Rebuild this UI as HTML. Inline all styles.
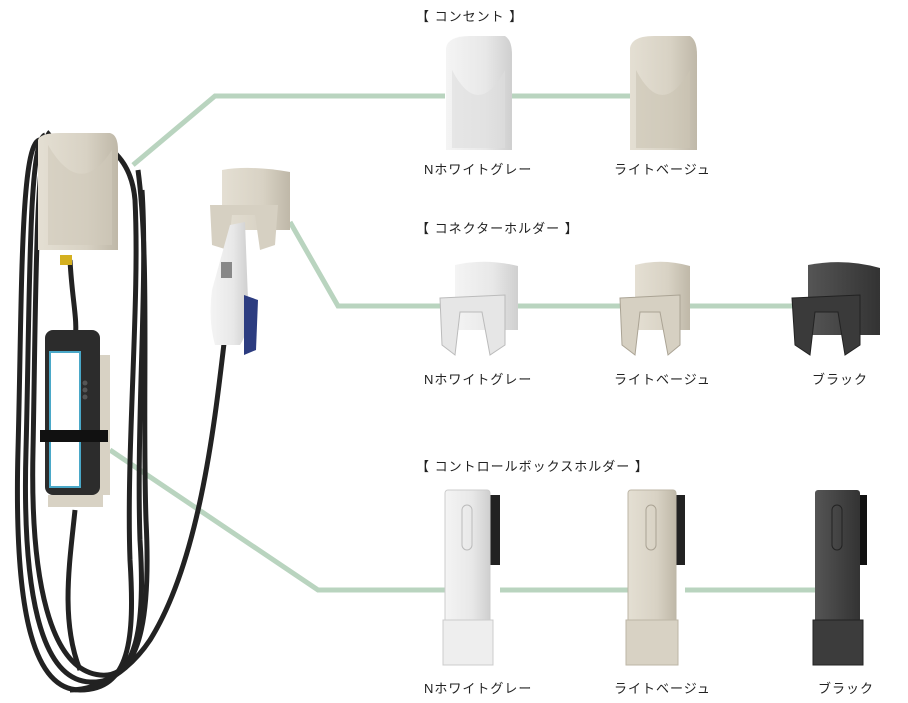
<!DOCTYPE html>
<html><head><meta charset="utf-8"><style>
html,body{margin:0;padding:0;background:#fff;}
body{width:908px;height:703px;overflow:hidden;position:relative;font-family:"Liberation Sans","Noto Sans CJK JP",sans-serif;}
.t{position:absolute;font-size:13px;color:#222;white-space:nowrap;letter-spacing:1px;}
svg{position:absolute;left:0;top:0;}
</style></head><body>
<svg width="908" height="703" viewBox="0 0 908 703">
<defs>
<linearGradient id="w" x1="0" x2="1"><stop offset="0" stop-color="#f4f4f4"/><stop offset="0.6" stop-color="#e8e8e8"/><stop offset="1" stop-color="#cfcfcf"/></linearGradient>
<linearGradient id="b" x1="0" x2="1"><stop offset="0" stop-color="#e4dfd3"/><stop offset="0.6" stop-color="#d8d2c4"/><stop offset="1" stop-color="#bfb8a8"/></linearGradient>
<linearGradient id="k" x1="0" x2="1"><stop offset="0" stop-color="#555"/><stop offset="1" stop-color="#333"/></linearGradient>
</defs>
<g stroke="#b9d4bf" stroke-width="5" fill="none">
<polyline points="133,165 215,96 445,96"/><line x1="512" y1="96" x2="630" y2="96"/>
<polyline points="290,222 338,306 445,306"/><line x1="518" y1="306" x2="625" y2="306"/><line x1="690" y1="306" x2="800" y2="306"/>
<polyline points="110,450 318,590 445,590"/><line x1="500" y1="590" x2="628" y2="590"/><line x1="685" y1="590" x2="815" y2="590"/>
</g>
<g stroke="#222" stroke-width="5" fill="none">
<path d="M40,140 C20,140 22,300 18,450 C14,600 30,690 80,690 C130,690 135,640 130,560 C126,450 140,300 135,200 C130,140 80,128 40,140"/>
<path d="M45,135 C28,140 30,300 26,450 C22,590 40,680 90,682 C140,684 145,620 140,540 C136,420 148,280 142,190"/>
<path d="M50,132 C35,145 36,300 33,450 C30,580 50,670 100,675 C145,680 150,600 146,520 C142,400 150,260 138,170"/>
<path d="M70,260 C72,300 78,320 75,340"/>
<path d="M75,510 C70,560 60,620 80,670"/>
<path d="M225,335 C215,420 200,560 150,640 C130,670 100,690 70,690"/>
</g>
<path d="M38,140 Q40,133 60,133 L110,133 Q118,135 118,150 L118,250 L38,250 Z" fill="url(#b)"/>
<path d="M48,145 Q80,200 112,150 L112,245 L48,245Z" fill="#d0c9ba" opacity="0.6"/>
<rect x="60" y="255" width="12" height="10" fill="#d4b020"/>
<rect x="88" y="355" width="22" height="140" fill="#d8d2c4"/>
<rect x="45" y="330" width="55" height="165" rx="8" fill="#2c2c2c"/>
<rect x="50" y="352" width="30" height="135" fill="#fff" stroke="#4aa8c8" stroke-width="2"/>
<circle cx="85" cy="383" r="2.5" fill="#555"/><circle cx="85" cy="390" r="2.5" fill="#555"/><circle cx="85" cy="397" r="2.5" fill="#555"/>
<rect x="40" y="430" width="68" height="12" fill="#111"/>
<rect x="48" y="495" width="55" height="12" fill="#d8d2c4"/>
<path d="M222,170 Q250,165 290,172 L290,230 L222,230 Z" fill="url(#b)"/>
<path d="M210,205 L278,205 L275,245 L260,250 L255,215 L232,215 L228,250 L212,245 Z" fill="#d6d0c2"/>
<path d="M230,225 L245,222 L248,300 Q250,330 240,345 L215,345 Q208,320 212,290 Z" fill="url(#w)"/>
<rect x="221" y="262" width="11" height="16" fill="#888"/>
<path d="M244,295 L258,300 L256,350 L244,355 Z" fill="#2c3c80"/>
<path d="M446,48 Q448,36 470,36 L505,36 Q512,40 512,55 L512,150 L446,150 Z" fill="url(#w)"/>
<path d="M452,70 Q478,120 505,70 L505,148 L452,148Z" fill="#ddd" opacity="0.6"/>
<path d="M630,48 Q632,36 654,36 L690,36 Q697,40 697,55 L697,150 L630,150 Z" fill="url(#b)"/>
<path d="M636,70 Q662,120 690,70 L690,148 L636,148Z" fill="#cbc4b4" opacity="0.6"/>
<path d="M455,265 Q485,258 518,266 L518,330 L455,330 Z" fill="url(#w)"/>
<path d="M440,298 L505,295 L505,345 L490,355 L482,312 L460,312 L455,355 L442,345 Z" fill="#e6e6e6" stroke="#bbb"/>
<path d="M635,265 Q662,258 690,266 L690,330 L635,330 Z" fill="url(#b)"/>
<path d="M620,298 L680,295 L680,345 L668,355 L660,312 L640,312 L635,355 L622,345 Z" fill="#d6d0c2" stroke="#aaa394"/>
<path d="M808,265 Q845,258 880,268 L880,335 L808,335 Z" fill="url(#k)"/>
<path d="M792,298 L860,295 L860,345 L845,355 L838,312 L815,312 L810,355 L795,345 Z" fill="#3a3a3a" stroke="#222"/>
<rect x="488" y="495" width="12" height="70" fill="#222"/>
<rect x="445" y="490" width="45" height="175" rx="3" fill="url(#w)" stroke="#ccc"/>
<rect x="462" y="505" width="10" height="45" rx="5" fill="none" stroke="#bbb"/>
<rect x="443" y="620" width="50" height="45" fill="#eee" stroke="#ccc"/>
<rect x="673" y="495" width="12" height="70" fill="#222"/>
<rect x="628" y="490" width="48" height="175" rx="3" fill="url(#b)" stroke="#bdb6a6"/>
<rect x="646" y="505" width="10" height="45" rx="5" fill="none" stroke="#aaa394"/>
<rect x="626" y="620" width="52" height="45" fill="#d8d2c4" stroke="#bdb6a6"/>
<rect x="855" y="495" width="12" height="70" fill="#111"/>
<rect x="815" y="490" width="45" height="175" rx="3" fill="url(#k)"/>
<rect x="832" y="505" width="10" height="45" rx="5" fill="none" stroke="#222"/>
<rect x="813" y="620" width="50" height="45" fill="#3c3c3c" stroke="#222"/>
</svg>
<div class="t" style="left:416px;top:6px;">【 コンセント 】</div>
<div class="t" style="left:424px;top:159px;">Nホワイトグレー</div>
<div class="t" style="left:614px;top:159px;">ライトベージュ</div>
<div class="t" style="left:416px;top:218px;">【 コネクターホルダー 】</div>
<div class="t" style="left:424px;top:369px;">Nホワイトグレー</div>
<div class="t" style="left:614px;top:369px;">ライトベージュ</div>
<div class="t" style="left:812px;top:369px;">ブラック</div>
<div class="t" style="left:416px;top:456px;">【 コントロールボックスホルダー 】</div>
<div class="t" style="left:424px;top:678px;">Nホワイトグレー</div>
<div class="t" style="left:614px;top:678px;">ライトベージュ</div>
<div class="t" style="left:818px;top:678px;">ブラック</div>
</body></html>
